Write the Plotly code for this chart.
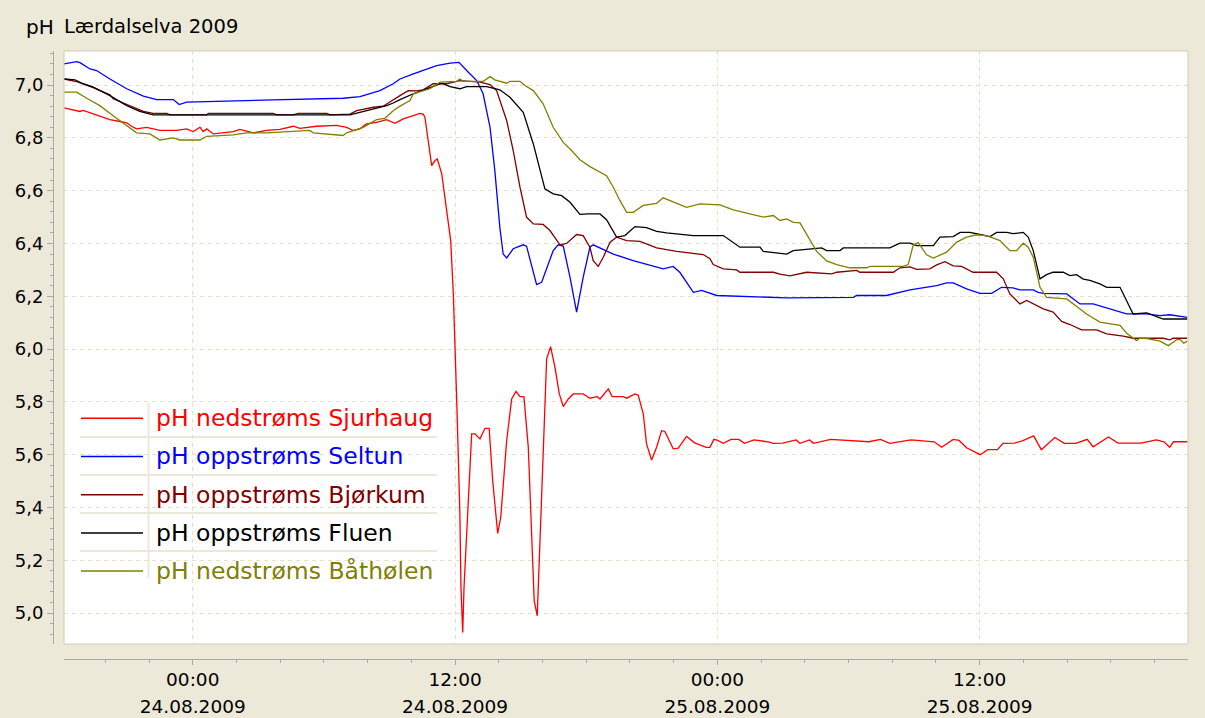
import plotly.graph_objects as go
import pandas as pd

# hours since 24.08.2009 00:00, pH values
t_sjurhaug = [-5.89, -5.47, -5.16, -5.01, -4.55, -4.25, -3.79, -3.33, -3.02, -2.80,
              -2.57, -2.11, -1.50, -0.74, -0.28, 0.02, 0.33, 0.48, 0.64, 0.94,
              1.55, 1.85, 2.16, 2.47, 2.77, 3.38, 3.99, 4.60, 4.90, 5.67,
              6.58, 7.04, 7.34, 7.65, 7.95, 8.41, 8.87, 9.25, 9.63, 10.09,
              10.39, 10.54, 10.62, 10.77, 10.93, 11.08, 11.19, 11.39, 11.62, 11.80,
              11.92, 12.00, 12.07, 12.15, 12.22, 12.27, 12.35, 12.41, 12.56, 12.76,
              12.91, 13.14, 13.37, 13.56, 13.72, 13.95, 14.09, 14.36, 14.59, 14.79,
              14.97, 15.15, 15.35, 15.50, 15.62, 15.76, 15.85, 16.01, 16.11, 16.19,
              16.37, 16.57, 16.77, 16.95, 17.18, 17.41, 17.86, 18.17, 18.50, 18.63,
              19.01, 19.19, 19.69, 19.85, 20.23, 20.38, 20.61, 20.76, 20.99, 21.22,
              21.45, 21.60, 21.98, 22.21, 22.59, 22.96, 23.49, 23.66, 23.84, 24.01,
              24.27, 24.63, 24.98, 25.24, 25.68, 26.38, 26.56, 26.99, 27.60, 27.78,
              28.22, 28.40, 29.18, 30.93, 31.46, 31.89, 32.86, 33.92, 34.26, 34.79,
              35.06, 35.40, 36.02, 36.37, 36.81, 37.07, 37.59, 37.95, 38.47, 38.82,
              39.44, 39.87, 40.40, 40.92, 41.19, 41.89, 42.33, 43.38, 44.08, 44.43,
              44.69, 44.87, 45.50]
ph_sjurhaug = [6.914, 6.907, 6.900, 6.904, 6.891, 6.884, 6.869, 6.862, 6.857, 6.844,
               6.834, 6.840, 6.828, 6.828, 6.834, 6.824, 6.840, 6.824, 6.834, 6.815,
               6.820, 6.824, 6.832, 6.824, 6.819, 6.828, 6.832, 6.844, 6.836, 6.844,
               6.847, 6.840, 6.828, 6.834, 6.853, 6.859, 6.869, 6.855, 6.872, 6.884,
               6.893, 6.890, 6.878, 6.790, 6.695, 6.714, 6.720, 6.664, 6.525, 6.411,
               6.210, 6.030, 5.820, 5.590, 5.376, 5.098, 4.927, 5.098, 5.363, 5.679,
               5.679, 5.660, 5.700, 5.700, 5.502, 5.302, 5.363, 5.653, 5.811, 5.840,
               5.820, 5.820, 5.628, 5.287, 5.047, 4.990, 5.186, 5.565, 5.817, 5.963,
               6.009, 5.931, 5.830, 5.782, 5.811, 5.830, 5.830, 5.814, 5.820, 5.811,
               5.849, 5.820, 5.820, 5.814, 5.830, 5.825, 5.755, 5.641, 5.580, 5.628,
               5.691, 5.688, 5.622, 5.625, 5.669, 5.645, 5.628, 5.628, 5.658, 5.654,
               5.643, 5.658, 5.658, 5.643, 5.656, 5.648, 5.643, 5.644, 5.656, 5.643,
               5.656, 5.643, 5.658, 5.649, 5.658, 5.643, 5.656, 5.649, 5.628, 5.658,
               5.654, 5.626, 5.600, 5.619, 5.619, 5.643, 5.644, 5.652, 5.671, 5.619,
               5.665, 5.643, 5.643, 5.658, 5.630, 5.667, 5.644, 5.644, 5.656, 5.649,
               5.628, 5.649, 5.649]

t_seltun = [-5.89, -5.31, -5.16, -4.70, -4.40, -3.79, -3.02, -2.26, -1.65, -0.89,
            -0.62, -0.28, 3.68, 6.88, 7.65, 8.56, 9.17, 9.48, 10.09, 11.16,
            11.77, 12.18, 12.53, 12.99, 13.28, 13.60, 13.82, 14.05, 14.20, 14.36,
            14.66, 15.12, 15.27, 15.73, 15.96, 16.49, 16.72, 16.95, 17.26, 17.56,
            17.86, 18.17, 18.32, 19.24, 20.15, 21.52, 21.98, 22.29, 22.90, 23.28,
            23.97, 26.25, 27.17, 30.22, 30.37, 31.74, 32.20, 32.81, 34.03, 34.49,
            34.79, 35.40, 36.01, 36.55, 37.00, 37.53, 37.84, 38.45, 38.68, 38.91,
            39.98, 40.59, 41.19, 42.72, 43.64, 44.25, 44.70, 45.31, 45.50]
ph_seltun = [7.080, 7.089, 7.085, 7.061, 7.055, 7.023, 6.986, 6.958, 6.945, 6.945,
             6.926, 6.935, 6.944, 6.950, 6.956, 6.979, 7.005, 7.023, 7.042, 7.074,
             7.083, 7.086, 7.055, 7.017, 6.968, 6.840, 6.676, 6.460, 6.360, 6.345,
             6.380, 6.395, 6.390, 6.244, 6.253, 6.373, 6.395, 6.390, 6.272, 6.140,
             6.272, 6.386, 6.395, 6.360, 6.335, 6.304, 6.313, 6.290, 6.215, 6.222,
             6.203, 6.196, 6.194, 6.196, 6.203, 6.203, 6.211, 6.224, 6.240, 6.251,
             6.251, 6.228, 6.211, 6.211, 6.234, 6.232, 6.224, 6.224, 6.215, 6.211,
             6.209, 6.171, 6.171, 6.133, 6.133, 6.127, 6.130, 6.123, 6.120]

t_bjorkum = [-5.89, -5.31, -4.55, -3.79, -3.64, -3.02, -2.26, -1.81, -1.19, -1.04,
             0.64, 0.71, 3.68, 3.84, 4.60, 4.83, 6.13, 6.28, 7.19, 7.50,
             8.26, 8.71, 9.02, 9.48, 9.86, 10.24, 10.54, 11.00, 11.61, 12.22,
             13.14, 13.60, 13.90, 14.36, 14.66, 14.97, 15.27, 15.58, 16.03, 16.34,
             16.80, 17.10, 17.56, 17.86, 18.17, 18.32, 18.55, 18.78, 19.09, 19.39,
             19.85, 20.46, 21.22, 22.14, 23.35, 23.66, 23.81, 24.27, 24.88, 25.03,
             26.56, 26.86, 27.32, 27.78, 28.08, 29.23, 29.46, 30.37, 30.52, 32.05,
             32.35, 32.81, 33.12, 33.72, 34.03, 34.41, 34.79, 35.17, 35.70, 36.77,
             37.08, 37.38, 37.84, 38.15, 38.91, 39.36, 39.75, 40.13, 40.66, 41.35,
             41.81, 42.57, 43.02, 44.40, 44.70, 44.85, 45.50]
ph_bjorkum = [7.023, 7.013, 6.990, 6.963, 6.948, 6.926, 6.900, 6.893, 6.893, 6.887,
              6.887, 6.893, 6.893, 6.887, 6.887, 6.893, 6.893, 6.887, 6.890, 6.903,
              6.916, 6.920, 6.935, 6.960, 6.979, 6.978, 6.982, 7.005, 7.005, 7.017,
              7.011, 7.002, 6.979, 6.866, 6.752, 6.613, 6.500, 6.474, 6.472, 6.449,
              6.395, 6.400, 6.434, 6.430, 6.386, 6.335, 6.313, 6.348, 6.405, 6.424,
              6.411, 6.408, 6.383, 6.370, 6.358, 6.342, 6.320, 6.304, 6.300, 6.291,
              6.291, 6.284, 6.277, 6.285, 6.291, 6.285, 6.291, 6.298, 6.291, 6.291,
              6.308, 6.311, 6.302, 6.304, 6.319, 6.331, 6.315, 6.313, 6.291, 6.291,
              6.266, 6.209, 6.171, 6.184, 6.152, 6.140, 6.105, 6.093, 6.073, 6.073,
              6.058, 6.049, 6.041, 6.041, 6.035, 6.041, 6.041]

t_fluen = [-5.89, -5.39, -5.01, -4.55, -3.79, -3.02, -2.42, -1.81, 7.19, 7.65,
           8.26, 8.87, 9.17, 9.48, 10.09, 10.70, 11.39, 11.77, 12.22, 12.53,
           13.45, 14.05, 14.51, 15.12, 15.58, 16.11, 16.49, 16.88, 17.26, 17.71,
           18.09, 18.63, 18.93, 19.39, 19.77, 20.23, 20.76, 21.22, 21.68, 22.90,
           24.27, 25.03, 25.95, 26.10, 27.17, 27.47, 28.77, 29.00, 29.61, 29.76,
           31.89, 32.35, 32.81, 33.12, 33.88, 34.18, 34.79, 35.10, 35.55, 36.01,
           36.47, 36.78, 37.23, 37.53, 37.99, 38.22, 38.45, 38.76, 39.06, 39.36,
           39.82, 40.13, 40.43, 40.74, 41.04, 41.50, 41.81, 42.42, 43.02, 43.64,
           44.40, 45.50]
ph_fluen = [7.023, 7.020, 7.005, 6.992, 6.960, 6.922, 6.900, 6.887, 6.887, 6.897,
            6.910, 6.922, 6.932, 6.945, 6.967, 6.986, 7.007, 6.994, 6.986, 6.994,
            6.994, 6.982, 6.954, 6.897, 6.777, 6.607, 6.588, 6.581, 6.556, 6.510,
            6.512, 6.512, 6.490, 6.424, 6.430, 6.464, 6.460, 6.446, 6.440, 6.430,
            6.430, 6.386, 6.386, 6.370, 6.360, 6.373, 6.383, 6.373, 6.373, 6.383,
            6.383, 6.401, 6.401, 6.392, 6.392, 6.424, 6.426, 6.442, 6.442, 6.434,
            6.426, 6.442, 6.442, 6.437, 6.442, 6.424, 6.373, 6.266, 6.282, 6.291,
            6.291, 6.278, 6.282, 6.265, 6.260, 6.247, 6.234, 6.234, 6.133, 6.137,
            6.114, 6.114]

t_bathoelen = [-5.89, -5.31, -4.85, -4.25, -3.64, -3.02, -2.57, -1.96, -1.50, -0.89,
               -0.59, 0.33, 0.64, 1.85, 2.47, 3.38, 4.60, 5.36, 5.51, 6.13,
               6.88, 7.04, 7.34, 7.80, 8.41, 8.79, 9.17, 9.48, 9.94, 10.09,
               10.85, 11.31, 12.07, 12.22, 12.37, 13.29, 13.60, 13.82, 14.36, 14.51,
               14.97, 15.20, 15.58, 16.03, 16.49, 16.95, 17.33, 17.71, 18.17, 18.48,
               18.93, 19.24, 19.54, 19.85, 20.15, 20.61, 21.22, 21.52, 21.83, 22.59,
               23.20, 24.12, 24.73, 25.49, 26.10, 26.56, 26.86, 27.17, 27.47, 27.78,
               28.08, 28.54, 29.00, 29.46, 30.06, 30.83, 30.98, 32.50, 32.73, 32.96,
               33.19, 33.57, 33.88, 34.49, 34.95, 35.40, 35.86, 36.32, 36.93, 37.38,
               37.69, 37.99, 38.22, 38.45, 38.76, 39.06, 39.98, 40.28, 40.89, 41.50,
               42.11, 42.42, 42.72, 43.02, 43.18, 43.33, 43.64, 44.25, 44.63, 45.01,
               45.16, 45.34, 45.50]
ph_bathoelen = [6.973, 6.973, 6.950, 6.922, 6.884, 6.847, 6.819, 6.815, 6.792, 6.800,
                6.792, 6.792, 6.806, 6.811, 6.819, 6.819, 6.824, 6.828, 6.819, 6.815,
                6.809, 6.819, 6.828, 6.840, 6.869, 6.874, 6.903, 6.920, 6.941, 6.967,
                6.986, 7.011, 7.014, 7.023, 7.014, 7.014, 7.032, 7.020, 7.007, 7.014,
                7.014, 6.998, 6.979, 6.929, 6.840, 6.783, 6.752, 6.717, 6.691, 6.676,
                6.657, 6.613, 6.563, 6.518, 6.518, 6.544, 6.552, 6.573, 6.563, 6.537,
                6.550, 6.546, 6.527, 6.512, 6.500, 6.506, 6.487, 6.493, 6.480, 6.478,
                6.436, 6.370, 6.334, 6.320, 6.308, 6.308, 6.313, 6.313, 6.320, 6.394,
                6.403, 6.357, 6.345, 6.367, 6.405, 6.424, 6.433, 6.430, 6.411, 6.373,
                6.373, 6.401, 6.386, 6.348, 6.234, 6.196, 6.190, 6.171, 6.133, 6.102,
                6.093, 6.090, 6.060, 6.042, 6.032, 6.042, 6.040, 6.030, 6.013, 6.035,
                6.037, 6.022, 6.030]

names = ["pH nedstrøms Sjurhaug", "pH oppstrøms Seltun", "pH oppstrøms Bjørkum",
         "pH oppstrøms Fluen", "pH nedstrøms Båthølen"]
colors = ["#FF0000", "#0000FF", "#800000", "#000000", "#808000"]
times = [t_sjurhaug, t_seltun, t_bjorkum, t_fluen, t_bathoelen]
values = [ph_sjurhaug, ph_seltun, ph_bjorkum, ph_fluen, ph_bathoelen]

T0 = pd.Timestamp("2009-08-24 00:00")
W, H = 1205, 718
BG = "#ECE9D8"
GRID = "#E4E0CA"
AXIS = "#A8A8A8"
FONT = "DejaVu Sans"


def px(x):
    return x / W


def py(y):
    return 1 - y / H


def to_time(hours):
    return T0 + pd.to_timedelta(hours, unit="h")


fig = go.Figure()
for name, col, t, v in zip(names, colors, times, values):
    assert len(t) == len(v), name
    fig.add_trace(go.Scatter(x=to_time(t), y=v, mode="lines", name=name,
                             line=dict(color=col, width=1.3), showlegend=False))

# invisible copy on the second x axis so that the date row gets drawn
fig.add_trace(go.Scatter(x=to_time(t_sjurhaug), y=ph_sjurhaug, xaxis="x2", mode="lines",
                         opacity=0, hoverinfo="skip", showlegend=False))

x_range = [to_time(-5.89), to_time(45.53)]
tick_common = dict(tick0="2009-08-24 00:00", dtick=12 * 3600 * 1000)

fig.update_layout(
    width=W, height=H, autosize=False,
    margin=dict(l=0, r=0, t=0, b=0),
    paper_bgcolor=BG, plot_bgcolor="white",
    font=dict(family=FONT, color="black"),
    separators=", ",
    showlegend=False,
    xaxis=dict(
        type="date", range=x_range, domain=[px(64), px(1188)],
        anchor="free", position=py(659),
        tickformat="%H:%M", **tick_common,
        ticks="outside", ticklen=5, tickcolor=AXIS, ticklabelstandoff=-1,
        showline=True, linecolor=AXIS, zeroline=False,
        showgrid=True, gridcolor=GRID, griddash="4px,4px",
        minor=dict(tick0="2009-08-24 00:00", dtick=2 * 3600 * 1000,
                   ticks="outside", ticklen=3, tickcolor=AXIS, showgrid=False),
        tickfont=dict(size=18.5, family=FONT, color="black"),
    ),
    xaxis2=dict(
        type="date", range=x_range, domain=[px(64), px(1188)],
        overlaying="x", anchor="free", position=py(685),
        tickformat="%d.%m.%Y", **tick_common,
        ticks="outside", ticklen=5, tickcolor="rgba(0,0,0,0)",
        showline=False, showgrid=False, zeroline=False,
        tickfont=dict(size=18.5, family=FONT, color="black"),
    ),
    yaxis=dict(
        range=[4.883, 7.129], domain=[py(644), py(51)],
        anchor="free", position=px(53),
        tick0=5.0, dtick=0.2, tickformat=".1f",
        ticks="outside", ticklen=6, tickcolor=AXIS,
        showline=True, linecolor=AXIS, zeroline=False,
        showgrid=True, gridcolor=GRID, griddash="4px,4px",
        minor=dict(tick0=5.0, dtick=0.04, ticks="outside", ticklen=3,
                   tickcolor=AXIS, showgrid=False),
        tickfont=dict(size=18, family=FONT, color="black"),
    ),
)

# plot frame
fig.add_shape(type="rect", xref="x domain", yref="y domain", x0=0, x1=1, y0=0, y1=1,
              line=dict(color="#CFCBB8", width=1), layer="above")

# legend box drawn inside the plot area
row_y = [418.3, 456.5, 494.7, 532.9, 571.1]
fig.add_shape(type="rect", xref="paper", yref="paper",
              x0=px(80), x1=px(437), y0=py(578), y1=py(403),
              fillcolor="white", line_width=0, layer="between")
for sep in [437, 475, 513, 551]:
    fig.add_shape(type="line", xref="paper", yref="paper",
                  x0=px(80), x1=px(437), y0=py(sep), y1=py(sep),
                  line=dict(color=BG, width=2), layer="between")
fig.add_shape(type="line", xref="paper", yref="paper",
              x0=px(148.5), x1=px(148.5), y0=py(578), y1=py(403),
              line=dict(color=BG, width=2), layer="between")
for name, col, ry in zip(names, colors, row_y):
    fig.add_shape(type="line", xref="paper", yref="paper",
                  x0=px(81), x1=px(143), y0=py(ry), y1=py(ry),
                  line=dict(color=col, width=1.5), layer="above")
    fig.add_annotation(text=name, xref="paper", yref="paper",
                       x=px(154), y=py(ry), xanchor="left", yanchor="middle",
                       showarrow=False, font=dict(size=23.5, family=FONT, color=col))

# title
fig.add_annotation(text="pH", xref="paper", yref="paper", x=px(24), y=py(27),
                   xanchor="left", yanchor="middle", showarrow=False,
                   font=dict(size=20, family=FONT, color="black"))
fig.add_annotation(text="Lærdalselva 2009", xref="paper", yref="paper", x=px(62), y=py(27),
                   xanchor="left", yanchor="middle", showarrow=False,
                   font=dict(size=19.5, family=FONT, color="black"))

fig.write_html("out.html", config={"displayModeBar": False},
               post_script="document.body.style.margin='0';"
                           "document.documentElement.style.overflow='hidden';")
